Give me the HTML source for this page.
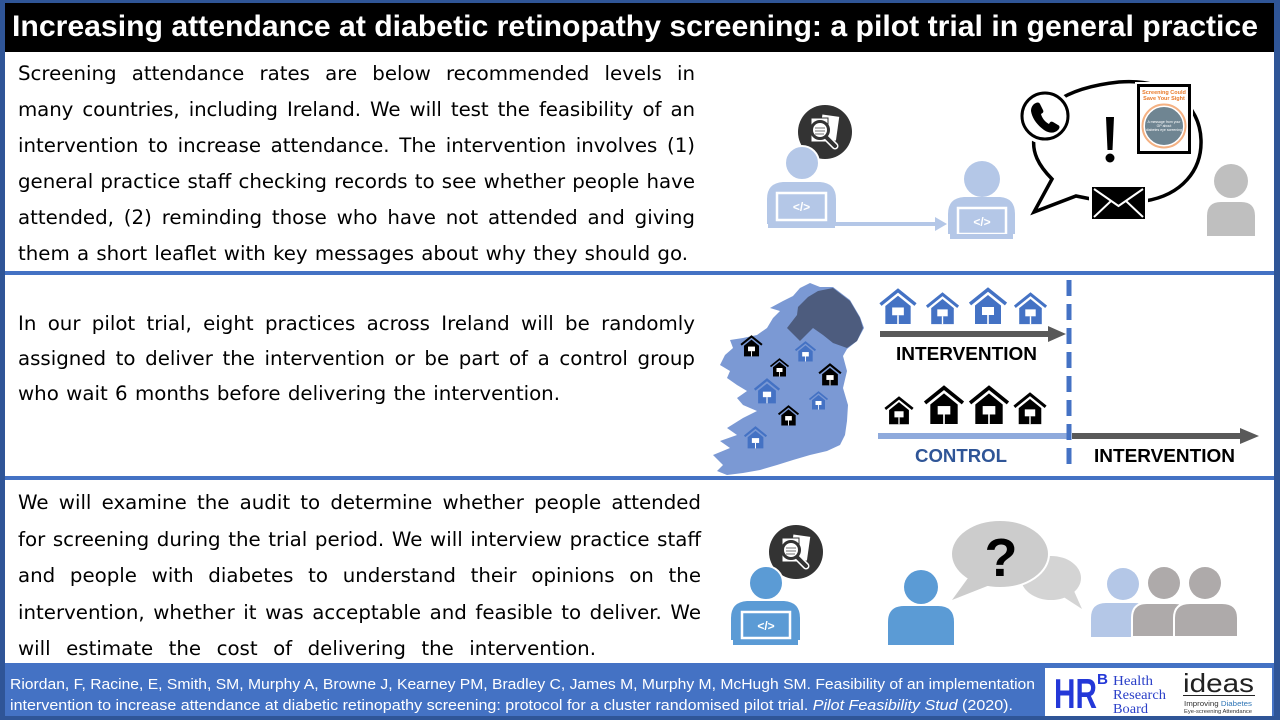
<!DOCTYPE html>
<html><head><meta charset="utf-8">
<style>
html,body{margin:0;padding:0;}
body{width:1280px;height:720px;overflow:hidden;background:#2f5597;}
#root{position:relative;width:1280px;height:720px;background:#2f5597;overflow:hidden;}
#white{position:absolute;left:5px;top:52px;width:1269px;height:611px;background:#fff;}
svg{position:absolute;left:0;top:0;}
.ln{position:absolute;left:18px;white-space:nowrap;font-family:"DejaVu Sans","Verdana",sans-serif;font-size:19.8px;line-height:36px;height:36px;color:#000;text-align:justify;text-align-last:justify;}
</style></head>
<body><div id="root">
<div id="white"></div>

<svg width="1280" height="720" viewBox="0 0 1280 720" xmlns="http://www.w3.org/2000/svg">
<defs>
<symbol id="h" viewBox="0 0 40 38">
<polyline points="2,17 20,2.5 38,17" fill="none" stroke="currentColor" stroke-width="3.5"/>
<polygon points="7,18.5 20,8 33,18.5 33,37 7,37" fill="currentColor"/>
<rect x="14" y="20" width="12" height="8" fill="#fff"/>
<rect x="19.2" y="28" width="1.6" height="9" fill="#fff"/>
</symbol>
</defs>

<!-- title bar -->
<rect x="5" y="3" width="1269" height="49" fill="#000"/>
<text x="12" y="36" font-family="Liberation Sans, Arial, sans-serif" font-weight="bold" font-size="30" fill="#fff" textLength="1246" lengthAdjust="spacingAndGlyphs">Increasing attendance at diabetic retinopathy screening: a pilot trial in general practice</text>

<!-- dividers -->
<rect x="5" y="271" width="1269" height="4" fill="#4472c4"/>
<rect x="5" y="476" width="1269" height="4" fill="#4472c4"/>

<!-- footer -->
<rect x="5" y="663" width="1269" height="53" fill="#4472c4"/>
<text x="10" y="689" font-family="Liberation Sans, Arial, sans-serif" font-size="15" fill="#fff" textLength="1025" lengthAdjust="spacingAndGlyphs">Riordan, F, Racine, E, Smith, SM, Murphy A, Browne J, Kearney PM, Bradley C, James M, Murphy M, McHugh SM. Feasibility of an implementation</text>
<text x="10" y="710" font-family="Liberation Sans, Arial, sans-serif" font-size="15" fill="#fff" textLength="1003" lengthAdjust="spacingAndGlyphs">intervention to increase attendance at diabetic retinopathy screening: protocol for a cluster randomised pilot trial. <tspan font-style="italic">Pilot Feasibility Stud</tspan> (2020).</text>

<!-- logos -->
<rect x="1045" y="668" width="227" height="48" fill="#fff"/>
<text x="1054" y="708" font-family="Liberation Sans, Arial, sans-serif" font-weight="bold" font-size="42" fill="#2438d8" textLength="43" lengthAdjust="spacingAndGlyphs">HR</text>
<text x="1097" y="684" font-family="Liberation Sans, Arial, sans-serif" font-weight="bold" font-size="15" fill="#2438d8" textLength="11" lengthAdjust="spacingAndGlyphs">B</text>
<text x="1113" y="685" font-family="Liberation Serif, serif" font-size="14" fill="#2a3fc8" textLength="40" lengthAdjust="spacingAndGlyphs">Health</text>
<text x="1113" y="699" font-family="Liberation Serif, serif" font-size="14" fill="#2a3fc8" textLength="53" lengthAdjust="spacingAndGlyphs">Research</text>
<text x="1113" y="713" font-family="Liberation Serif, serif" font-size="14" fill="#2a3fc8" textLength="35" lengthAdjust="spacingAndGlyphs">Board</text>
<text x="1183" y="692" font-family="Liberation Sans, Arial, sans-serif" font-size="26" fill="#222" textLength="71" lengthAdjust="spacingAndGlyphs">ideas</text>
<rect x="1183" y="695" width="72" height="1" fill="#222"/>
<text x="1184" y="706" font-family="Liberation Sans, Arial, sans-serif" font-size="7" fill="#333" textLength="68" lengthAdjust="spacingAndGlyphs">Improving <tspan fill="#2e75b6">Diabetes</tspan></text>
<text x="1184" y="713" font-family="Liberation Sans, Arial, sans-serif" font-size="5.5" fill="#333" textLength="68" lengthAdjust="spacingAndGlyphs">Eye-screening Attendance</text>

<!-- ===== Section 1 graphics ===== -->
<!-- doc search icon -->
<g transform="translate(825,132)">
<circle r="27" fill="#333"/>
<rect x="-5" y="-17" width="17" height="24" fill="#fff" transform="rotate(8)"/>
<rect x="-14" y="-14" width="17" height="24" fill="#fff" stroke="#333" stroke-width="1"/>
<g stroke="#999" stroke-width="1"><line x1="-11" y1="-9" x2="0" y2="-9"/><line x1="-11" y1="-5" x2="0" y2="-5"/><line x1="-11" y1="5" x2="0" y2="5"/></g>
<line x1="0" y1="4" x2="10" y2="14" stroke="#fff" stroke-width="7" stroke-linecap="round"/>
<line x1="0" y1="4" x2="10" y2="14" stroke="#333" stroke-width="4" stroke-linecap="round"/>
<circle cx="-5" cy="-2" r="8.5" fill="#fff" stroke="#333" stroke-width="3"/>
<g stroke="#888" stroke-width="1.2"><line x1="-10" y1="-4" x2="0" y2="-4"/><line x1="-10" y1="-1" x2="0" y2="-1"/><line x1="-10" y1="2" x2="-1" y2="2"/></g>
</g>
<!-- person 1 -->
<circle cx="802" cy="163" r="17" fill="#b4c7e7" stroke="#fff" stroke-width="2"/>
<path d="M767,224 L767,199 Q767,183 783,182 L820,182 Q836,183 836,199 L836,224 Z" fill="#b4c7e7"/>
<rect x="777" y="193" width="49" height="27" fill="#b4c7e7" stroke="#fff" stroke-width="2.5"/>
<text x="801.5" y="211" text-anchor="middle" font-family="Liberation Sans, Arial, sans-serif" font-weight="bold" font-size="12" fill="#fff">&lt;/&gt;</text>
<rect x="768" y="223" width="67" height="5" fill="#b4c7e7"/>
<!-- arrow -->
<line x1="835" y1="224" x2="938" y2="224" stroke="#b4c7e7" stroke-width="4"/>
<polygon points="935,217 947,224 935,231" fill="#b4c7e7"/>
<!-- person 2 -->
<circle cx="982" cy="179" r="18" fill="#b4c7e7"/>
<path d="M948,234 L948,214 Q948,198 964,197 L1000,197 Q1015,198 1015,214 L1015,234 Z" fill="#b4c7e7"/>
<rect x="958" y="208" width="48" height="26" fill="#b4c7e7" stroke="#fff" stroke-width="2.5"/>
<text x="982" y="226" text-anchor="middle" font-family="Liberation Sans, Arial, sans-serif" font-weight="bold" font-size="12" fill="#fff">&lt;/&gt;</text>
<rect x="950" y="234" width="63" height="5" fill="#b4c7e7"/>
<!-- speech bubble -->
<path d="M1091,199 L1076,196 L1034,212 L1052,179 C1038,165 1032,152 1034,138 C1036,110 1062,88 1119,82 C1170,78 1200,105 1201,140 C1202,170 1182,195 1145,201 Z" fill="#fff" stroke="#000" stroke-width="3.5" stroke-linejoin="miter"/>
<!-- phone -->
<circle cx="1045" cy="116" r="28" fill="#fff"/>
<circle cx="1045" cy="116" r="23" fill="#fff" stroke="#000" stroke-width="3"/>
<g transform="translate(1045,117)">
<path d="M-11,-13 C-8,-15 -6,-15 -5,-13 L-2,-7 C-1,-5 -2,-4 -4,-3 C-3,1 0,5 4,7 C5,5 6,4 8,5 L13,8 C15,9 15,11 13,13 C10,16 5,17 -1,13 C-8,8 -13,1 -14,-6 C-14,-9 -13,-11 -11,-13 Z" fill="#000"/>
</g>
<!-- exclamation -->
<polygon points="1106,117 1114,117 1112.5,150 1107.5,150" fill="#000"/>
<circle cx="1110" cy="158" r="4.5" fill="#000"/>
<!-- leaflet -->
<rect x="1135" y="82" width="58" height="74" fill="#fff"/>
<rect x="1138.5" y="85.5" width="51" height="67" fill="#fff" stroke="#000" stroke-width="3"/>
<text x="1164" y="94" text-anchor="middle" font-family="Liberation Sans, Arial, sans-serif" font-weight="bold" font-size="5.5" fill="#e97a2a">Screening Could</text>
<text x="1164" y="100" text-anchor="middle" font-family="Liberation Sans, Arial, sans-serif" font-weight="bold" font-size="5.5" fill="#e97a2a">Save Your Sight</text>
<circle cx="1164" cy="126" r="21.5" fill="none" stroke="#f4b183" stroke-width="2"/>
<circle cx="1164" cy="126" r="19.5" fill="#6f8592" stroke="#fff" stroke-width="1"/>
<text x="1164" y="123" text-anchor="middle" font-family="Liberation Sans, Arial, sans-serif" font-size="3.5" fill="#fff">A message from your</text>
<text x="1164" y="127" text-anchor="middle" font-family="Liberation Sans, Arial, sans-serif" font-size="3.5" fill="#fff">GP about</text>
<text x="1164" y="131" text-anchor="middle" font-family="Liberation Sans, Arial, sans-serif" font-size="3.5" fill="#fff">diabetes eye screening</text>
<!-- envelope -->
<rect x="1089" y="184" width="59" height="38" fill="#fff"/>
<rect x="1092" y="187" width="53" height="32" fill="#000"/>
<polyline points="1094,189 1118.5,206 1143,189" fill="none" stroke="#fff" stroke-width="2"/>
<line x1="1094" y1="217" x2="1111" y2="201" stroke="#fff" stroke-width="2"/>
<line x1="1143" y1="217" x2="1126" y2="201" stroke="#fff" stroke-width="2"/>
<!-- gray person -->
<circle cx="1231" cy="181" r="17" fill="#bfbfbf"/>
<path d="M1207,236 L1207,216 Q1207,202 1221,202 L1241,202 Q1255,202 1255,216 L1255,236 Z" fill="#bfbfbf"/>

<!-- ===== Section 2 graphics ===== -->
<polygon fill="#7b99d4" points="810,283 820,287 833,287 850,300 860,317 864,328 857,341 847,349 843,356 847,371 843,388 848,405 847,421 845,435 840,445 827,451 810,455 793,460 777,465 760,470 743,473 727,475 717,471 723,465 713,455 730,448 720,441 737,435 727,428 743,418 757,411 743,405 737,398 747,391 737,385 727,378 730,371 720,365 725,355 733,348 730,340 743,338 757,335 767,328 773,318 780,311 770,308 783,301 793,296 800,288"/>
<polygon fill="#4d5c7e" points="798,307 808,297 818,291 833,288 850,301 860,318 863,328 857,341 847,348 833,343 823,335 813,328 800,341 787,328 797,315"/>
<!-- map houses -->
<use href="#h" x="738" y="335" width="27" height="22" style="color:#000"/>
<use href="#h" x="792" y="341" width="27" height="21" style="color:#4472c4"/>
<use href="#h" x="768" y="358" width="23" height="19" style="color:#000"/>
<use href="#h" x="815" y="363" width="30" height="23" style="color:#000"/>
<use href="#h" x="750" y="378" width="34" height="26" style="color:#4472c4"/>
<use href="#h" x="807" y="391" width="23" height="19" style="color:#4472c4"/>
<use href="#h" x="776" y="405" width="25" height="21" style="color:#000"/>
<use href="#h" x="740" y="426" width="31" height="23" style="color:#4472c4"/>
<!-- top row blue houses -->
<use href="#h" x="876" y="288" width="44" height="37" style="color:#4472c4"/>
<use href="#h" x="924" y="292" width="37" height="33" style="color:#4472c4"/>
<use href="#h" x="965" y="287" width="46" height="38" style="color:#4472c4"/>
<use href="#h" x="1012" y="292" width="37" height="33" style="color:#4472c4"/>
<!-- arrow 1 -->
<line x1="880" y1="334" x2="1050" y2="334" stroke="#595959" stroke-width="6"/>
<polygon points="1048,326 1066,334 1048,342" fill="#595959"/>
<text x="896" y="360" font-family="Liberation Sans, Arial, sans-serif" font-weight="bold" font-size="18.5" fill="#000" textLength="141" lengthAdjust="spacingAndGlyphs">INTERVENTION</text>
<!-- black houses -->
<use href="#h" x="882" y="396" width="34" height="29" style="color:#000"/>
<use href="#h" x="921" y="385" width="46" height="40" style="color:#000"/>
<use href="#h" x="966" y="385" width="46" height="40" style="color:#000"/>
<use href="#h" x="1012" y="392" width="36" height="33" style="color:#000"/>
<!-- control line and arrow 2 -->
<line x1="878" y1="436" x2="1068" y2="436" stroke="#8faadc" stroke-width="6"/>
<line x1="1072" y1="436" x2="1242" y2="436" stroke="#595959" stroke-width="6"/>
<polygon points="1240,428 1259,436 1240,444" fill="#595959"/>
<text x="915" y="462" font-family="Liberation Sans, Arial, sans-serif" font-weight="bold" font-size="18.5" fill="#2f5597" textLength="92" lengthAdjust="spacingAndGlyphs">CONTROL</text>
<text x="1094" y="462" font-family="Liberation Sans, Arial, sans-serif" font-weight="bold" font-size="18.5" fill="#000" textLength="141" lengthAdjust="spacingAndGlyphs">INTERVENTION</text>
<!-- dashed line -->
<line x1="1069" y1="280" x2="1069" y2="470" stroke="#4472c4" stroke-width="5" stroke-dasharray="16 8"/>

<!-- ===== Section 3 graphics ===== -->
<g transform="translate(796,552)">
<circle r="27" fill="#333"/>
<rect x="-5" y="-17" width="17" height="24" fill="#fff" transform="rotate(8)"/>
<rect x="-14" y="-14" width="17" height="24" fill="#fff" stroke="#333" stroke-width="1"/>
<g stroke="#999" stroke-width="1"><line x1="-11" y1="-9" x2="0" y2="-9"/><line x1="-11" y1="-5" x2="0" y2="-5"/><line x1="-11" y1="5" x2="0" y2="5"/></g>
<line x1="0" y1="4" x2="10" y2="14" stroke="#fff" stroke-width="7" stroke-linecap="round"/>
<line x1="0" y1="4" x2="10" y2="14" stroke="#333" stroke-width="4" stroke-linecap="round"/>
<circle cx="-5" cy="-2" r="8.5" fill="#fff" stroke="#333" stroke-width="3"/>
<g stroke="#888" stroke-width="1.2"><line x1="-10" y1="-4" x2="0" y2="-4"/><line x1="-10" y1="-1" x2="0" y2="-1"/><line x1="-10" y1="2" x2="-1" y2="2"/></g>
</g>
<circle cx="766" cy="583" r="17" fill="#5b9bd5" stroke="#fff" stroke-width="2"/>
<path d="M731,640 L731,618 Q731,602 747,601 L784,601 Q800,602 800,618 L800,640 Z" fill="#5b9bd5"/>
<rect x="742" y="612" width="48" height="26" fill="#5b9bd5" stroke="#fff" stroke-width="2.5"/>
<text x="766" y="630" text-anchor="middle" font-family="Liberation Sans, Arial, sans-serif" font-weight="bold" font-size="12" fill="#fff">&lt;/&gt;</text>
<rect x="733" y="640" width="65" height="5" fill="#5b9bd5"/>
<!-- middle person -->
<circle cx="921" cy="587" r="17" fill="#5b9bd5"/>
<path d="M888,645 L888,622 Q888,606 904,606 L938,606 Q954,606 954,622 L954,645 Z" fill="#5b9bd5"/>
<!-- bubbles -->
<ellipse cx="1051" cy="578" rx="30" ry="22" fill="#d4d4d4"/>
<polygon points="1062,596 1082,609 1074,591" fill="#d4d4d4"/>
<ellipse cx="1000" cy="554" rx="49" ry="34" fill="#cccccc" stroke="#fff" stroke-width="2"/>
<polygon points="968,578 952,600 990,585" fill="#cccccc"/>
<text x="1001" y="576" text-anchor="middle" font-family="Liberation Sans, Arial, sans-serif" font-weight="bold" font-size="54" fill="#000">?</text>
<!-- three people -->
<circle cx="1123" cy="584" r="16" fill="#b4c7e7"/>
<path d="M1091,637 L1091,618 Q1091,603 1106,603 L1134,603 Q1149,603 1149,618 L1149,637 Z" fill="#b4c7e7"/>
<circle cx="1164" cy="583" r="16" fill="#aeaaaa"/>
<path d="M1132,637 L1132,618 Q1132,603 1147,603 L1175,603 Q1190,603 1190,618 L1190,637 Z" fill="#aeaaaa" stroke="#fff" stroke-width="2"/>
<circle cx="1205" cy="583" r="16" fill="#aeaaaa"/>
<path d="M1174,637 L1174,618 Q1174,603 1190,603 L1222,603 Q1238,603 1238,618 L1238,637 Z" fill="#aeaaaa" stroke="#fff" stroke-width="2"/>
</svg>

<!-- Section 1 text -->
<div class="ln" style="top:56px;width:677px;">Screening attendance rates are below recommended levels in</div>
<div class="ln" style="top:92px;width:677px;letter-spacing:-0.1px;">many countries, including Ireland. We will test the feasibility of an</div>
<div class="ln" style="top:128px;width:677px;">intervention to increase attendance. The intervention involves (1)</div>
<div class="ln" style="top:164px;width:677px;">general practice staff checking records to see whether people have</div>
<div class="ln" style="top:200px;width:677px;">attended, (2) reminding those who have not attended and giving</div>
<div class="ln" style="top:236px;width:670px;">them a short leaflet with key messages about why they should go.</div>

<!-- Section 2 text -->
<div class="ln" style="top:306px;width:677px;">In our pilot trial, eight practices across Ireland will be randomly</div>
<div class="ln" style="top:341px;width:677px;">assigned to deliver the intervention or be part of a control group</div>
<div class="ln" style="top:376px;width:542px;">who wait 6 months before delivering the intervention.</div>

<!-- Section 3 text -->
<div class="ln" style="top:485px;width:683px;">We will examine the audit to determine whether people attended</div>
<div class="ln" style="top:522px;width:683px;">for screening during the trial period. We will interview practice staff</div>
<div class="ln" style="top:558px;width:683px;">and people with diabetes to understand their opinions on the</div>
<div class="ln" style="top:595px;width:683px;">intervention, whether it was acceptable and feasible to deliver. We</div>
<div class="ln" style="top:631px;width:578px;">will estimate the cost of delivering the intervention.</div>

</div></body></html>
